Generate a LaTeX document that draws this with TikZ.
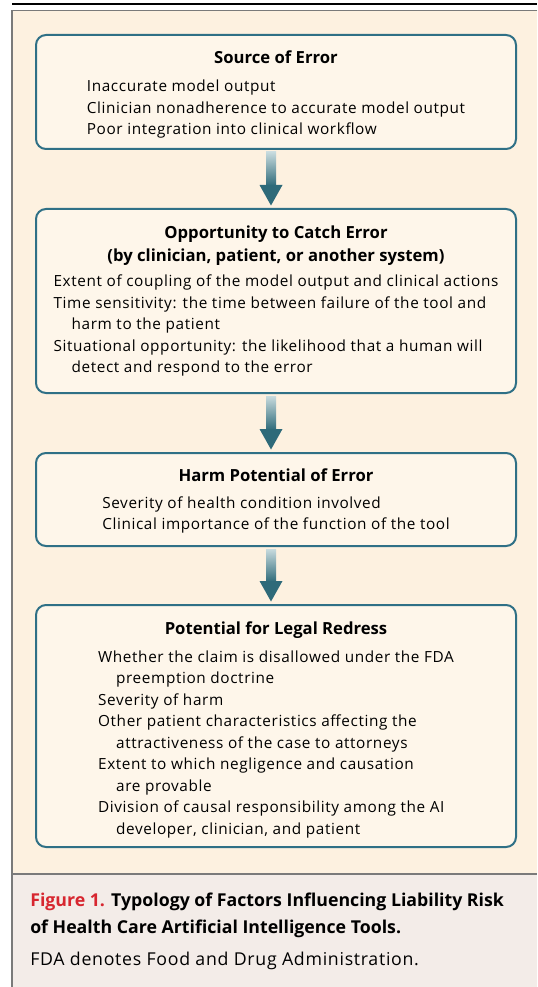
\documentclass[tikz,border=0pt]{standalone}
\usepackage{fontspec}
\setmainfont{Open Sans}
\usetikzlibrary{calc,positioning}

\definecolor{panel}{HTML}{FDF1E0}
\definecolor{capfill}{HTML}{F3ECE8}
\definecolor{framegray}{HTML}{7A7A7A}
\definecolor{boxline}{HTML}{2F7086}
\definecolor{boxfill}{HTML}{FEF6EA}
\definecolor{figred}{HTML}{D7262F}
\definecolor{arrowtop}{HTML}{C8DBDE}
\definecolor{arrowbot}{HTML}{2E6A79}

\begin{document}
\begin{tikzpicture}[x=0.75pt,y=-0.75pt]
\tikzstyle{box}=[draw=boxline, line width=1.5pt, fill=boxfill, rounded corners=7.5pt, minimum width=360pt, inner sep=0pt, outer sep=0pt]
\tikzstyle{head}=[font=\fontsize{12.5}{17.25}\selectfont\bfseries, align=center, inner sep=0pt, outer sep=0pt]
\tikzstyle{body}=[font=\fontsize{11.5}{16.125}\selectfont\addfontfeatures{LetterSpace=4}, align=left, inner sep=0pt, outer sep=0pt]
\tikzstyle{captxt}=[align=left, inner sep=0pt, anchor=base west]

% frame and caption panel
\useasboundingbox (0,0) rectangle (537,987);
\fill[panel] (12,10.5) rectangle (537,874);
\fill[capfill] (12,874) rectangle (537,987);
\draw[line width=1.1pt] (12,4) -- (537,4);
\draw[framegray, line width=1.1pt] (537,10.5) -- (12,10.5) -- (12,987);
\draw[framegray, line width=1.1pt] (12,874) -- (537,874);

\node[box, minimum height=85.5pt]		(src) at (276,92) {};
\node[box, minimum height=138pt]		(catch) [below of=src, node distance=156.75pt] {};
\node[box, minimum height=69.75pt]		(harm) [below of=catch, node distance=148.875pt] {};
\node[box, minimum height=181.5pt]		(redress) [below of=harm, node distance=169.875pt] {};

\node[head] (srchead) [below=9.675pt of src.north] {\strut Source of Error};
\node[body] (srcbody) [below=31.46pt of src.north] {\strut Inaccurate model output\\
  Clinician nonadherence to accurate model output\\
  Poor integration into clinical workflow};

\node[head] (catchhead) [below=10.425pt of catch.north] {\strut Opportunity to Catch Error\\(by clinician, patient, or another system)};
\node[body] (catchbody) [below=47.21pt of catch.north] {\strut Extent of coupling of the model output and clinical actions\\
  Time sensitivity: the time between failure of the tool and\\
  \hspace*{13.5pt}harm to the patient\\
  Situational opportunity: the likelihood that a human will\\
  \hspace*{13.5pt}detect and respond to the error};

\node[head] (harmhead) [below=8.925pt of harm.north] {\strut Harm Potential of Error};
\node[body] (harmbody) [below=29.96pt of harm.north] {\strut Severity of health condition involved\\
  Clinical importance of the function of the tool};

\node[head] (redresshead) [below=9.675pt of redress.north] {\strut Potential for Legal Redress};
\node[body] (redressbody) [below=31.46pt of redress.north] {\strut Whether the claim is disallowed under the FDA\\
  \hspace*{13.5pt}preemption doctrine\\
  Severity of harm\\
  Other patient characteristics affecting the\\
  \hspace*{13.5pt}attractiveness of the case to attorneys\\
  Extent to which negligence and causation\\
  \hspace*{13.5pt}are provable\\
  Division of causal responsibility among the AI\\
  \hspace*{13.5pt}developer, clinician, and patient};

% shaded arrows between the boxes
\foreach \a/\b in {src/catch, catch/harm, harm/redress}{
  \shade[top color=arrowtop, bottom color=arrowbot] ($(\a.south)+(-10,3)$) rectangle ($(\b.north)+(0,-23)$);
  \fill[arrowbot] ($(\b.north)+(-16.5,-24)$) -- ($(\b.north)+(6.5,-24)$) -- ($(\b.north)+(-5,-3.5)$) -- cycle;
}

\node[captxt, font=\fontsize{13.3}{20}\selectfont\bfseries] (figtitle) at (30,933.3) {\textcolor{figred}{Figure 1.} Typology of Factors Influencing Liability Risk\\of Health Care Artificial Intelligence Tools.};
\node[captxt, font=\fontsize{13.3}{20}\selectfont\addfontfeatures{LetterSpace=4}] (fignote) at (30,965) {FDA denotes Food and Drug Administration.};
\end{tikzpicture}
\end{document}
